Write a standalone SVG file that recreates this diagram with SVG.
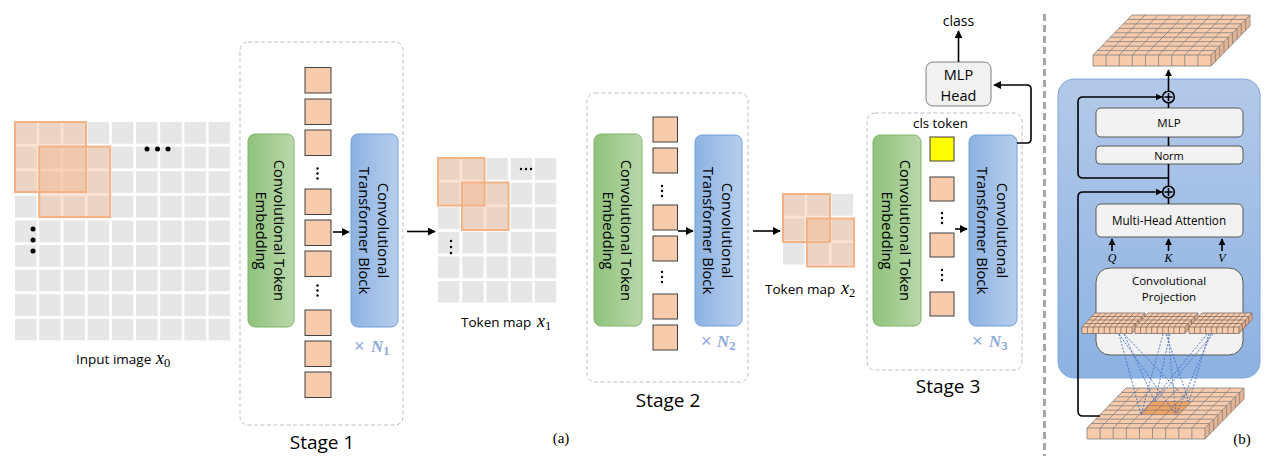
<svg xmlns="http://www.w3.org/2000/svg" xmlns:xlink="http://www.w3.org/1999/xlink" width="1275" height="467" viewBox="0 0 1275 467">
  <style>
    .t { font-family: "Open Sans", "Noto Sans", sans-serif; fill: #000; }
    .rot { font-size: 14.8px; }
    .stage { font-size: 19px; }
    .lbl { font-size: 13.5px; }
    .small { font-size: 11.5px; }
    .mi { font-family: "Liberation Serif", serif; font-style: italic; }
    .mr { font-family: "Liberation Serif", serif; }
    .xn { fill: #8eaadb; }
    .stagebox { fill: none; stroke: #bfbfbf; stroke-width: 1; stroke-dasharray: 4 2.5; }
    .tok { fill: #f8cbad; stroke: #404040; stroke-width: 1; }
    .emb { fill: url(#gGreen); stroke: #7fb668; stroke-width: 1; }
    .ctb { fill: url(#gBlue); stroke: #6fa0d8; stroke-width: 1; }
    .ov { fill: #f4b183; fill-opacity: 0.35; stroke: #f4b183; stroke-width: 2; }
    .arrow { fill: none; stroke: #000; stroke-width: 1.6; marker-end: url(#ah); }
    .line { fill: none; stroke: #000; stroke-width: 1.6; }
    .ibox { fill: #f2f2f2; stroke: #595959; stroke-width: 1; }
    .conv { fill: none; stroke: #4472c4; stroke-width: 0.9; stroke-dasharray: 2 1.5; }
    .dot { fill: #000; }
  </style>
  <defs>
    <linearGradient id="gGreen" x1="0" y1="0" x2="1" y2="0">
      <stop offset="0" stop-color="#8fc27b"/>
      <stop offset="1" stop-color="#b9d8ab"/>
    </linearGradient>
    <linearGradient id="gBlue" x1="0" y1="0" x2="1" y2="0">
      <stop offset="0" stop-color="#8db2e2"/>
      <stop offset="1" stop-color="#b6ceec"/>
    </linearGradient>
    <linearGradient id="gPanel" x1="0" y1="0" x2="0" y2="1">
      <stop offset="0" stop-color="#b3c9e9"/>
      <stop offset="1" stop-color="#8cb2e2"/>
    </linearGradient>
    <pattern id="cells0" x="15" y="122" width="24.2" height="24.6" patternUnits="userSpaceOnUse">
      <rect width="21.6" height="21.8" fill="#e6e6e6"/>
    </pattern>
    <pattern id="cells1" x="438" y="158" width="24.2" height="24.6" patternUnits="userSpaceOnUse">
      <rect width="21.6" height="21.8" fill="#e6e6e6"/>
    </pattern>
    <pattern id="cells2" x="783" y="194" width="24.3" height="24.5" patternUnits="userSpaceOnUse">
      <rect width="21.6" height="21.8" fill="#e6e6e6"/>
    </pattern>
    <marker id="ah" viewBox="0 0 10 10" refX="9" refY="5" markerWidth="5" markerHeight="5" orient="auto" markerUnits="strokeWidth">
      <path d="M0,0 L10,5 L0,10 z" fill="#000"/>
    </marker>
    <marker id="ahs" viewBox="0 0 10 10" refX="9" refY="5" markerWidth="4.5" markerHeight="4.5" orient="auto" markerUnits="strokeWidth">
      <path d="M0,0 L10,5 L0,10 z" fill="#000"/>
    </marker>
    <!-- 3D token map (9x9): faces and grid lines, front-left corner at origin -->
    <g id="mapFaces">
      <polygon points="0,0 118,0 157,-40 39,-40" fill="#f8cbad"/>
      <rect x="0" y="0" width="118" height="11" fill="#f8cbad"/>
      <polygon points="118,0 157,-40 157,-29 118,11" fill="#e6b492"/>
    </g>
    <path id="mapLines" fill="none" d="M4.33,-4.44H122.33 M8.67,-8.89H126.67 M13,-13.33H131 M17.33,-17.78H135.33 M21.67,-22.22H139.67 M26,-26.67H144 M30.33,-31.11H148.33 M34.67,-35.56H152.67 M13.11,0l39,-40 M26.22,0l39,-40 M39.33,0l39,-40 M52.44,0l39,-40 M65.56,0l39,-40 M78.67,0l39,-40 M91.78,0l39,-40 M104.89,0l39,-40 M13.11,0v11 M26.22,0v11 M39.33,0v11 M52.44,0v11 M65.56,0v11 M78.67,0v11 M91.78,0v11 M104.89,0v11 M122.33,-4.44v11 M126.67,-8.89v11 M131,-13.33v11 M135.33,-17.78v11 M139.67,-22.22v11 M144,-26.67v11 M148.33,-31.11v11 M152.67,-35.56v11 M0,0H118L157,-40H39Z M0,0v11H118v-11 M118,11L157,-29V-40"/>
    <!-- small projected token map (9x4) -->
    <g id="smallMap">
      <polygon points="0,0 50,0 63,-14 13,-14" fill="#f8cbad"/>
      <rect x="0" y="0" width="50" height="6.5" fill="#f8cbad"/>
      <polygon points="50,0 63,-14 63,-7.5 50,6.5" fill="#e2ad8a"/>
      <path fill="none" stroke="#7d6d63" stroke-width="0.8" d="M3.25,-3.5H53.25 M6.5,-7H56.5 M9.75,-10.5H59.75 M5.56,0l13,-14 M11.11,0l13,-14 M16.67,0l13,-14 M22.22,0l13,-14 M27.78,0l13,-14 M33.33,0l13,-14 M38.89,0l13,-14 M44.44,0l13,-14 M5.56,0v6.5 M11.11,0v6.5 M16.67,0v6.5 M22.22,0v6.5 M27.78,0v6.5 M33.33,0v6.5 M38.89,0v6.5 M44.44,0v6.5 M53.25,-3.5v6.5 M56.5,-7v6.5 M59.75,-10.5v6.5 M0,0H50L63,-14H13Z M0,0v6.5H50v-6.5 M50,6.5L63,-7.5V-14"/>
    </g>
  </defs>

  <rect width="1275" height="467" fill="#fff"/>

  <!-- input image x0 -->
  <g id="input-image">
    <rect x="15" y="122" width="215.2" height="218.6" fill="url(#cells0)"/>
    <rect class="ov" x="15" y="122" width="71" height="70"/>
    <rect class="ov" x="39.2" y="146.6" width="71" height="70.5"/>
    <circle class="dot" cx="147" cy="149" r="2.5"/>
    <circle class="dot" cx="157.5" cy="149" r="2.5"/>
    <circle class="dot" cx="168" cy="149" r="2.5"/>
    <circle class="dot" cx="33" cy="229" r="2.5"/>
    <circle class="dot" cx="33" cy="240" r="2.5"/>
    <circle class="dot" cx="33" cy="251" r="2.5"/>
    <text class="t lbl" x="76" y="364">Input image <tspan class="mi" font-size="18" x="156">x</tspan><tspan class="mr" font-size="12.5" dy="3">0</tspan></text>
  </g>

  <!-- stage 1 -->
  <g id="stage1">
    <rect class="stagebox" x="240" y="42" width="163" height="383" rx="8"/>
    <rect class="emb" x="248" y="134" width="46" height="193" rx="7"/>
    <g transform="translate(271,230.5) rotate(90)">
      <text class="t rot" text-anchor="middle"><tspan x="0" y="-3">Convolutional Token</tspan><tspan x="0" y="15">Embedding</tspan></text>
    </g>
    <rect class="tok" x="305" y="67.5" width="26" height="25.5"/>
    <rect class="tok" x="305" y="99" width="26" height="25.5"/>
    <rect class="tok" x="305" y="130" width="26" height="25.5"/>
    <circle class="dot" cx="317.5" cy="168.5" r="1.2"/>
    <circle class="dot" cx="317.5" cy="173.5" r="1.2"/>
    <circle class="dot" cx="317.5" cy="178.5" r="1.2"/>
    <rect class="tok" x="305" y="189" width="26" height="25.5"/>
    <rect class="tok" x="305" y="220" width="26" height="25.5"/>
    <rect class="tok" x="305" y="251" width="26" height="25.5"/>
    <circle class="dot" cx="317.5" cy="285.5" r="1.2"/>
    <circle class="dot" cx="317.5" cy="290.5" r="1.2"/>
    <circle class="dot" cx="317.5" cy="295.5" r="1.2"/>
    <rect class="tok" x="305" y="310" width="26" height="25.5"/>
    <rect class="tok" x="305" y="341" width="26" height="25.5"/>
    <rect class="tok" x="305" y="372" width="26" height="25.5"/>
    <rect class="ctb" x="351" y="134" width="47" height="193" rx="7"/>
    <g transform="translate(374.5,230.5) rotate(90)">
      <text class="t rot" text-anchor="middle"><tspan x="0" y="-3.5">Convolutional</tspan><tspan x="0" y="16">Transformer Block</tspan></text>
    </g>
    <text class="xn" y="352"><tspan x="354" font-family="Liberation Sans, sans-serif" font-size="18">×</tspan><tspan x="371" font-family="Liberation Serif, serif" font-weight="bold" font-style="italic" font-size="17">N</tspan><tspan font-family="Liberation Serif, serif" font-weight="bold" font-size="12.5" dy="3">1</tspan></text>
    <text class="t stage" x="322" y="449" text-anchor="middle">Stage 1</text>
  </g>

  <!-- token map x1 -->
  <g id="token-map-1">
    <rect x="438" y="158" width="118.4" height="144.8" fill="url(#cells1)"/>
    <rect class="ov" x="438" y="158" width="46.5" height="47.5"/>
    <rect class="ov" x="462" y="182.5" width="46.5" height="47.5"/>
    <circle class="dot" cx="521" cy="169" r="1.2"/>
    <circle class="dot" cx="526" cy="169" r="1.2"/>
    <circle class="dot" cx="531" cy="169" r="1.2"/>
    <circle class="dot" cx="451" cy="241" r="1.2"/>
    <circle class="dot" cx="451" cy="247" r="1.2"/>
    <circle class="dot" cx="451" cy="253" r="1.2"/>
    <text class="t lbl" x="461" y="327">Token map <tspan class="mi" font-size="18" x="537">x</tspan><tspan class="mr" font-size="12.5" dy="3">1</tspan></text>
  </g>

  <!-- stage 2 -->
  <g id="stage2">
    <rect class="stagebox" x="587" y="93" width="161" height="289" rx="8"/>
    <rect class="emb" x="594" y="134" width="48" height="192" rx="7"/>
    <g transform="translate(618,230.5) rotate(90)">
      <text class="t rot" text-anchor="middle"><tspan x="0" y="-3">Convolutional Token</tspan><tspan x="0" y="15">Embedding</tspan></text>
    </g>
    <rect class="tok" x="653" y="117" width="24.5" height="25"/>
    <rect class="tok" x="653" y="148" width="24.5" height="25"/>
    <circle class="dot" cx="662" cy="186" r="1.2"/>
    <circle class="dot" cx="662" cy="191" r="1.2"/>
    <circle class="dot" cx="662" cy="196" r="1.2"/>
    <rect class="tok" x="653" y="205" width="24.5" height="25"/>
    <rect class="tok" x="653" y="236" width="24.5" height="25"/>
    <circle class="dot" cx="662" cy="272" r="1.2"/>
    <circle class="dot" cx="662" cy="277" r="1.2"/>
    <circle class="dot" cx="662" cy="282" r="1.2"/>
    <rect class="tok" x="653" y="294" width="24.5" height="25"/>
    <rect class="tok" x="653" y="325" width="24.5" height="25"/>
    <rect class="ctb" x="695" y="135" width="47" height="191" rx="7"/>
    <g transform="translate(718.5,230.5) rotate(90)">
      <text class="t rot" text-anchor="middle"><tspan x="0" y="-3.5">Convolutional</tspan><tspan x="0" y="16">Transformer Block</tspan></text>
    </g>
    <text class="xn" y="347"><tspan x="701" font-family="Liberation Sans, sans-serif" font-size="18">×</tspan><tspan x="717" font-family="Liberation Serif, serif" font-weight="bold" font-style="italic" font-size="17">N</tspan><tspan font-family="Liberation Serif, serif" font-weight="bold" font-size="12.5" dy="3">2</tspan></text>
    <text class="t stage" x="668" y="407" text-anchor="middle">Stage 2</text>
  </g>

  <!-- token map x2 -->
  <g id="token-map-2">
    <rect x="783" y="194" width="70.5" height="70.8" fill="url(#cells2)"/>
    <rect class="ov" x="783" y="194" width="47" height="48"/>
    <rect class="ov" x="807" y="218.5" width="47" height="48"/>
    <text class="t lbl" x="765" y="294">Token map <tspan class="mi" font-size="18" x="841">x</tspan><tspan class="mr" font-size="12.5" dy="3">2</tspan></text>
  </g>

  <!-- stage 3 -->
  <g id="stage3">
    <rect class="stagebox" x="867" y="113" width="155" height="257" rx="8"/>
    <text class="t" font-size="13.3" x="940.5" y="128" text-anchor="middle">cls token</text>
    <rect class="emb" x="873" y="135" width="48" height="191" rx="7"/>
    <g transform="translate(897,230.5) rotate(90)">
      <text class="t rot" text-anchor="middle"><tspan x="0" y="-3">Convolutional Token</tspan><tspan x="0" y="15">Embedding</tspan></text>
    </g>
    <rect x="930" y="137" width="24" height="24" fill="#ffff00" stroke="#404040" stroke-width="1"/>
    <rect class="tok" x="930" y="177" width="24" height="24"/>
    <circle class="dot" cx="942" cy="213" r="1.2"/>
    <circle class="dot" cx="942" cy="218" r="1.2"/>
    <circle class="dot" cx="942" cy="223" r="1.2"/>
    <rect class="tok" x="930" y="233" width="24" height="24"/>
    <circle class="dot" cx="942" cy="270" r="1.2"/>
    <circle class="dot" cx="942" cy="275" r="1.2"/>
    <circle class="dot" cx="942" cy="280" r="1.2"/>
    <rect class="tok" x="930" y="292" width="24" height="24"/>
    <rect class="ctb" x="969" y="135" width="48" height="191" rx="7"/>
    <g transform="translate(993,230.5) rotate(90)">
      <text class="t rot" text-anchor="middle"><tspan x="0" y="-3.5">Convolutional</tspan><tspan x="0" y="16">Transformer Block</tspan></text>
    </g>
    <text class="xn" y="347"><tspan x="972" font-family="Liberation Sans, sans-serif" font-size="18">×</tspan><tspan x="989" font-family="Liberation Serif, serif" font-weight="bold" font-style="italic" font-size="17">N</tspan><tspan font-family="Liberation Serif, serif" font-weight="bold" font-size="12.5" dy="3">3</tspan></text>
    <text class="t stage" x="948" y="393" text-anchor="middle">Stage 3</text>
  </g>

  <!-- classification head -->
  <g id="mlp-head">
    <rect x="926" y="62" width="65" height="44" rx="7" fill="#f2f2f2" stroke="#7f7f7f" stroke-width="1"/>
    <text class="t" font-size="14.5" text-anchor="middle"><tspan x="958.5" y="80">MLP</tspan><tspan x="958.5" y="101">Head</tspan></text>
  </g>
  <g id="class-label">
    <text class="t" font-size="14" x="958.5" y="26" text-anchor="middle">class</text>
  </g>

  <!-- connectors of the pipeline -->
  <g id="connectors-a">
    <path class="arrow" d="M333,232 H349"/>
    <path class="arrow" d="M407,231.5 H435"/>
    <path class="arrow" d="M678,231 H693"/>
    <path class="arrow" d="M753,231 H780"/>
    <path class="arrow" d="M955,229 H967"/>
    <path class="arrow" d="M958.5,62 V31"/>
    <path class="arrow" d="M1017,143 H1027 Q1031,143 1031,139 V89 Q1031,85 1027,85 H994"/>
  </g>

  <text class="mr" font-size="15" x="561" y="443" text-anchor="middle">(a)</text>

  <!-- separator between (a) and (b) -->
  <line x1="1044.5" y1="14" x2="1044.5" y2="456" stroke="#a6a6a6" stroke-width="3" stroke-dasharray="7 4"/>

  <!-- (b) convolutional transformer block -->
  <g id="block-panel">
    <rect x="1058" y="79" width="202" height="299" rx="16" fill="url(#gPanel)" stroke="#7fa6dc" stroke-width="1"/>
  </g>
  <g id="output-map">
    <g transform="translate(1093,55)">
      <use xlink:href="#mapFaces"/>
      <use xlink:href="#mapLines" stroke="#7f7f7f" stroke-width="0.8"/>
    </g>
  </g>
  <g id="mlp">
    <rect class="ibox" x="1096" y="108" width="147" height="29" rx="5"/>
    <text class="t small" x="1169" y="127" text-anchor="middle">MLP</text>
  </g>
  <g id="norm">
    <rect class="ibox" x="1096" y="146" width="147" height="18" rx="4"/>
    <text class="t" font-size="11" x="1169" y="159.5" text-anchor="middle">Norm</text>
  </g>
  <g id="mha">
    <rect class="ibox" x="1096" y="204" width="147" height="33" rx="5"/>
    <text class="t" font-size="11.7" x="1169" y="225" text-anchor="middle">Multi-Head Attention</text>
  </g>
  <g id="qkv-labels">
    <text class="mi" font-size="12" x="1112" y="262" text-anchor="middle">Q</text>
    <text class="mi" font-size="12" x="1168.5" y="262" text-anchor="middle">K</text>
    <text class="mi" font-size="12" x="1222" y="262" text-anchor="middle">V</text>
  </g>
  <g id="conv-projection">
    <rect class="ibox" x="1096" y="268" width="147" height="87" rx="14"/>
    <text class="t small" text-anchor="middle"><tspan x="1169" y="285">Convolutional</tspan><tspan x="1169" y="301">Projection</tspan></text>
    <use xlink:href="#smallMap" x="1082" y="327"/>
    <use xlink:href="#smallMap" x="1135" y="327"/>
    <use xlink:href="#smallMap" x="1189" y="327"/>
  </g>
  <g id="input-map">
    <g transform="translate(1087,428)">
      <use xlink:href="#mapFaces"/>
      <polygon points="52.33,-13.33 91.67,-13.33 104.67,-26.67 65.33,-26.67" fill="#f2a262"/>
      <use xlink:href="#mapLines" stroke="#7f7f7f" stroke-width="0.8"/>
    </g>
  </g>

  <!-- connectors inside the block -->
  <g id="connectors-b">
    <path class="line" d="M1168.5,103 V108 M1168.5,137 V146 M1168.5,164 V186 M1168.5,198 V204"/>
    <path class="arrow" style="marker-end:url(#ahs)" d="M1168.5,91 V70"/>
    <path class="arrow" style="marker-end:url(#ahs)" d="M1168.5,178 H1083 Q1078,178 1078,173 V102 Q1078,97 1083,97 H1162"/>
    <path class="arrow" style="marker-end:url(#ahs)" d="M1100,416 H1083 Q1078,416 1078,411 V197 Q1078,192 1083,192 H1162"/>
    <path class="arrow" style="marker-end:url(#ahs)" stroke-width="1.4" d="M1112,251 V239"/>
    <path class="arrow" style="marker-end:url(#ahs)" stroke-width="1.4" d="M1168.5,251 V239"/>
    <path class="arrow" style="marker-end:url(#ahs)" stroke-width="1.4" d="M1222,251 V239"/>
    <circle cx="1168.5" cy="97" r="5.8" fill="none" stroke="#000" stroke-width="1.6"/>
    <path class="line" stroke-width="1.3" d="M1164.5,97 H1172.5 M1168.5,93 V101"/>
    <circle cx="1168.5" cy="192" r="5.8" fill="none" stroke="#000" stroke-width="1.6"/>
    <path class="line" stroke-width="1.3" d="M1164.5,192 H1172.5 M1168.5,188 V196"/>
    <!-- receptive field links from projected tokens to the 3x3 input patch -->
    <path class="conv" d="M1119,334 L1141,415 M1119,334 L1176,415 M1124,334 L1189,402 M1124,334 L1155,402 M1163,334 L1141,415 M1168,334 L1176,415 M1166,334 L1189,402 M1170,334 L1155,402 M1207,334 L1141,415 M1211,334 L1176,415 M1209,334 L1189,402 M1213,334 L1155,402"/>
  </g>

  <text class="mr" font-size="15" x="1242" y="444" text-anchor="middle">(b)</text>
</svg>
